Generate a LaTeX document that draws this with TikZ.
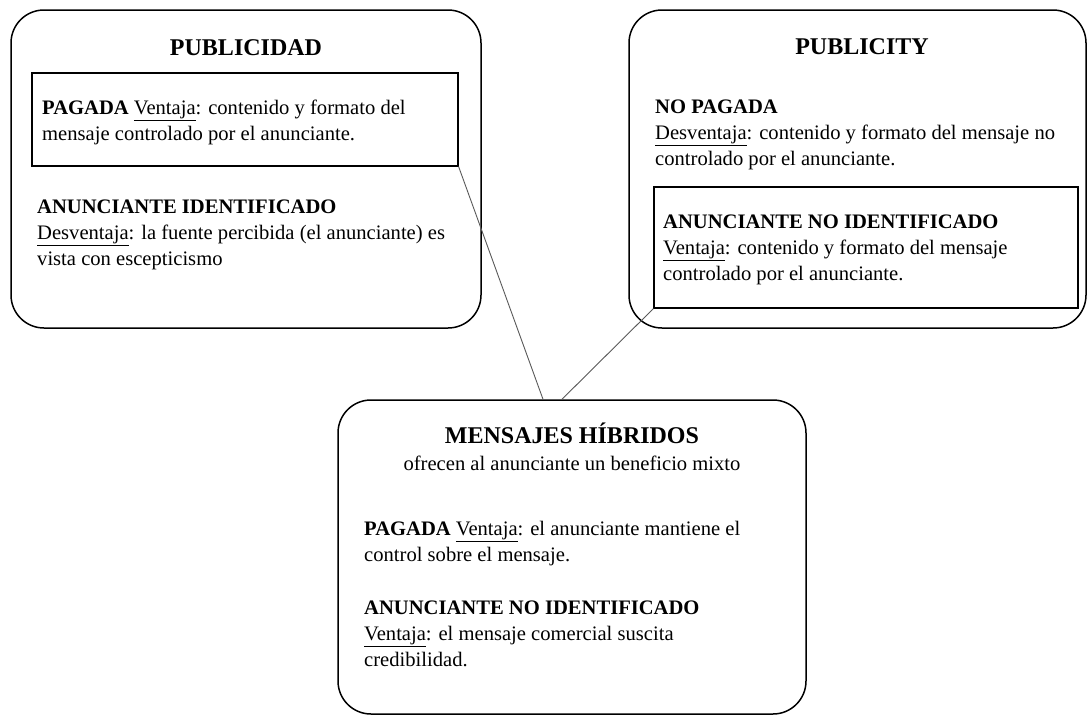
\documentclass[tikz,border=0pt]{standalone}
\usepackage{fontspec}
\setmainfont{Liberation Serif}
\usepackage{tikz}
\usetikzlibrary{calc}

\begin{document}
\begin{tikzpicture}[
  x=1pt, y=-1pt,
  font=\fontsize{20.6}{26}\selectfont,
  outer/.style={draw, line width=1.5pt, rounded corners=33pt},
  inner/.style={draw, line width=1.2pt},
  txt/.style={anchor=base west, align=left, inner sep=0pt},
  ttl/.style={anchor=base, inner sep=0pt, font=\fontsize{24}{28}\selectfont\bfseries},
  link/.style={draw=black!65, line width=0.9pt}
]
\useasboundingbox (0,0) rectangle (1087,715);

% cajas
\node[outer, minimum width=470pt, minimum height=318pt] (pub) at (246,169) {};
\node[outer, minimum width=457pt, minimum height=318pt] (pty) at (857.5,169) {};
\node[outer, minimum width=468pt, minimum height=314pt] (hib) at (572,557) {};

\node[inner, minimum width=426pt, minimum height=93pt] (pag) at (245,119.5) {};
\node[inner, minimum width=424pt, minimum height=121pt] (noid) at (866,247.5) {};

% titulos
\node[ttl] (pubT) at (246,55) {PUBLICIDAD};
\node[ttl] (ptyT) at (862,54) {PUBLICITY};
\node[ttl] (hibT) at (572,443) {MENSAJES HÍBRIDOS};
\node[anchor=base, inner sep=0pt] (hibS) at (572,470) {ofrecen al anunciante un beneficio mixto};

% textos (base = ultima linea)
\node[txt] (pagT) at (42,140) {\textbf{PAGADA} \underline{Ventaja}: contenido y formato del\\mensaje controlado por el anunciante.};
\node[txt] (idT) at (37,265) {\textbf{ANUNCIANTE IDENTIFICADO}\\\underline{Desventaja}: la fuente percibida (el anunciante) es\\vista con escepticismo};
\node[txt] (npT) at (655,165) {\textbf{NO PAGADA}\\\underline{Desventaja}: contenido y formato del mensaje no\\controlado por el anunciante.};
\node[txt] (noidT) at (663,280) {\textbf{ANUNCIANTE NO IDENTIFICADO}\\\underline{Ventaja}: contenido y formato del mensaje\\controlado por el anunciante.};
\node[txt] (hpT) at (364,561) {\textbf{PAGADA} \underline{Ventaja}: el anunciante mantiene el\\control sobre el mensaje.};
\node[txt] (hnT) at (364,666) {\textbf{ANUNCIANTE NO IDENTIFICADO}\\\underline{Ventaja}: el mensaje comercial suscita\\credibilidad.};

% enlaces
\draw[link] (pag.south east) -- ($(hib.north)+(-29,0)$);
\draw[link] (noid.south west) -- ($(hib.north)+(-10,0)$);
\end{tikzpicture}
\end{document}
